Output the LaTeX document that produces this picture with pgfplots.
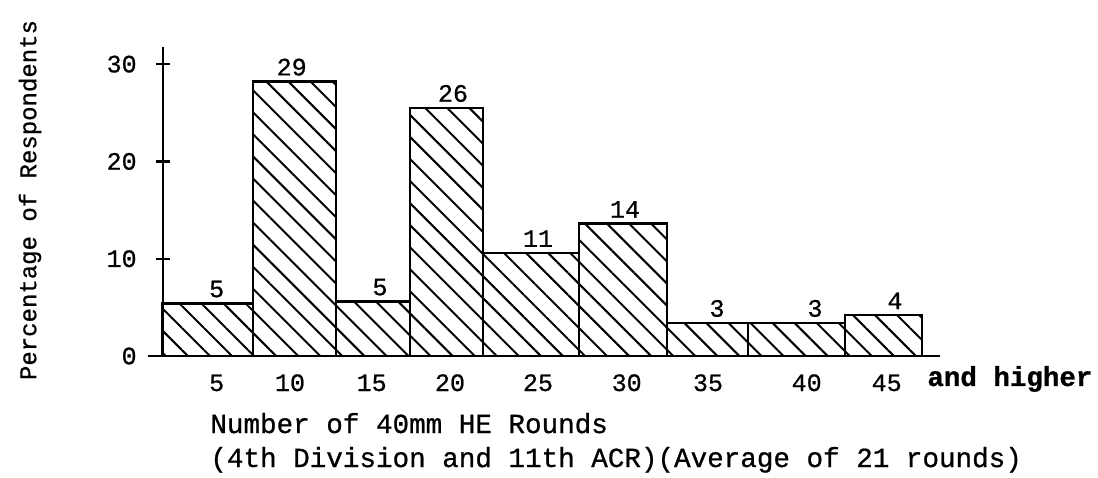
\documentclass[border=0pt]{standalone}
\usepackage{fontspec}
\setmainfont{Liberation Mono}[FakeBold=0.8]
\usepackage{pgfplots}
\pgfplotsset{compat=1.18}
\usepackage{pgfplotstable}
\usetikzlibrary{patterns.meta}
\pgfplotstableread{
x y
-0.7 5.4
90.3 28.2
173.3 5.6
247.3 25.5
320.3 10.6
416.3 13.6
504.3 3.4
585.3 3.4
682.3 4.2
759.3 4.2
}\bars
\pgfplotstableread{
x y lab
54 5.4 5
129 28.2 29
217.3 5.6 5
290.3 25.5 26
375.3 10.6 11
462.3 13.6 14
554.3 3.4 3
652.3 3.4 3
732.3 4.2 4
}\labs
\begin{document}
\begin{tikzpicture}
\path (0,0) rectangle (549pt,238.5pt);
\begin{axis}[
  at={(74pt,60.5pt)}, anchor=south west,
  scale only axis, width=396pt, height=154.5pt,
  xmin=-14.7, xmax=777.3, ymin=0, ymax=31.76,
  axis lines=middle, axis line style={-, line width=1.1pt},
  hide obscured x ticks=false, hide obscured y ticks=false,
  ytick={0,10,20,30},
  tick align=center, major tick length=7pt,
  ytick style={line width=1.1pt, black},
  xtick={54,127.3,209,287.3,375.3,464,545.3,644,724},
  xticklabels={5,10,15,20,25,30,35,40,45},
  x tick style={draw=none},
  xticklabel style={font=\fontsize{12.5}{14}\selectfont, anchor=base, yshift=-14pt},
  yticklabel style={font=\fontsize{12.5}{14}\selectfont, anchor=east, xshift=-6pt},
  /pgf/number format/assume math mode=true,
  clip=false,
]
\addplot[ybar interval, draw=black, line width=1.2pt,
  pattern={Lines[angle=-45,distance=7.8pt,line width=1pt]}] table[x=x,y=y] {\bars};
\addplot[draw=none, mark=none, nodes near coords, point meta=explicit symbolic,
  every node near coord/.style={font=\fontsize{12.5}{14}\selectfont, anchor=south, inner sep=0pt, outer sep=0pt, yshift=3pt}]
  table[x=x,y=y,meta=lab] {\labs};
\end{axis}
\node[anchor=base west, inner sep=0pt, font=\fontsize{13.75}{15}\selectfont\bfseries] at (463.5pt,45.5pt) {and higher};
\node[anchor=base west, inner sep=0pt, font=\fontsize{13.8}{15}\selectfont] at (105pt,22pt) {Number of 40mm HE Rounds};
\node[anchor=base west, inner sep=0pt, font=\fontsize{13.8}{15}\selectfont] at (105pt,5pt) {(4th Division and 11th ACR)(Average of 21 rounds)};
\node[rotate=90, inner sep=0pt, font=\fontsize{12}{14}\selectfont] at (15pt,138.5pt) {Percentage of Respondents};
\end{tikzpicture}
\end{document}
